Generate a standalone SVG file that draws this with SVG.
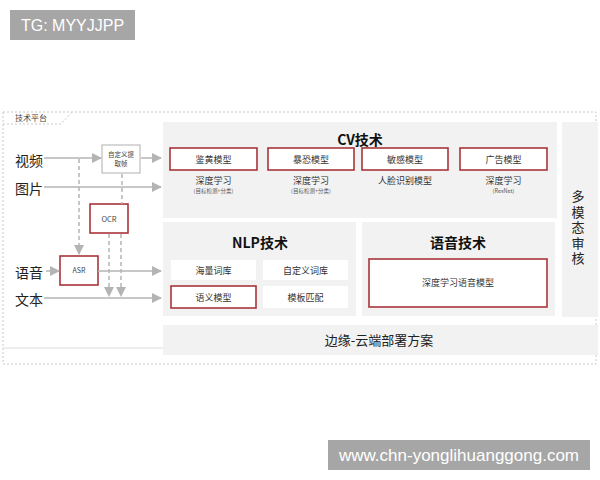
<svg xmlns="http://www.w3.org/2000/svg" width="600" height="480" viewBox="0 0 600 480">
<defs>
<marker id="ah" viewBox="0 0 10 10" refX="9" refY="5" markerWidth="10" markerHeight="10" markerUnits="userSpaceOnUse" orient="auto"><path d="M0,0 L10,5 L0,10 z" fill="#b4b4b4"/></marker>
</defs>
<style>
text{font-family:"Noto Sans CJK SC","Liberation Sans",sans-serif;fill:#333}
.panel{fill:#f2f2f2}
.rbox{fill:#fff;stroke:#a8353a;stroke-width:1.6}
.wbox{fill:#fff}
.gbox{fill:#fff;stroke:#bdbdbd;stroke-width:1.2}
.ln{stroke:#b4b4b4;stroke-width:1.5;fill:none}
.dl{stroke:#b4b4b4;stroke-width:1.5;fill:none;stroke-dasharray:4 3}
.t9{font-size:9px;text-anchor:middle}
.t6{font-size:5.5px;text-anchor:middle;fill:#555}
.h{font-size:14px;font-weight:bold;text-anchor:middle;fill:#111}
.lab{font-size:14px;fill:#222}
</style>
<g id="watermark-tg"><rect x="10" y="10" width="125" height="30" fill="#a6a6a6"/><text x="72.5" y="31" style="font-family:'Liberation Sans',sans-serif;font-size:16px;fill:#fff;text-anchor:middle">TG: MYYJJPP</text></g>
<g id="watermark-url"><rect x="328" y="440" width="262" height="30" fill="#a6a6a6"/><text x="459" y="461" style="font-family:'Liberation Sans',sans-serif;font-size:17px;fill:#fff;text-anchor:middle">www.chn-yonglihuanggong.com</text></g>
<g id="platform">
<rect x="3" y="112" width="593" height="252" fill="none" stroke="#c8c8c8" stroke-width="1" stroke-dasharray="2 2"/>
<path d="M3,124 L61,124 L72,112" fill="none" stroke="#c8c8c8" stroke-width="1" stroke-dasharray="2 2"/>
<text x="15" y="121" style="font-size:8px;fill:#444">技术平台</text>
<line x1="3" y1="348" x2="163" y2="348" stroke="#dcdcdc" stroke-width="1"/>
</g>
<g id="cv">
<rect class="panel" x="163" y="122" width="394" height="96"/>
<text class="h" x="360" y="145">CV技术</text>
<rect class="rbox" x="170" y="148" width="87" height="22"/><text class="t9" x="213.5" y="162.5">鉴黄模型</text>
<rect class="rbox" x="268" y="148" width="86" height="22"/><text class="t9" x="311" y="162.5">暴恐模型</text>
<rect class="rbox" x="362" y="148" width="86" height="22"/><text class="t9" x="405" y="162.5">敏感模型</text>
<rect class="rbox" x="460" y="148" width="87" height="22"/><text class="t9" x="503.5" y="162.5">广告模型</text>
<text class="t9" x="213.5" y="184">深度学习</text><text class="t6" x="213.5" y="193">(目标检测+分类)</text>
<text class="t9" x="311" y="184">深度学习</text><text class="t6" x="311" y="193">(目标检测+分类)</text>
<text class="t9" x="405" y="184">人脸识别模型</text>
<text class="t9" x="503.5" y="184">深度学习</text><text class="t6" x="503.5" y="193">(ResNet)</text>
</g>
<g id="audit">
<rect class="panel" x="562" y="122" width="36" height="195"/>
<text x="578" y="190" writing-mode="vertical-rl" letter-spacing="2.5" style="font-size:13px;fill:#222">多模态审核</text>
</g>
<g id="nlp">
<rect class="panel" x="163" y="222" width="193" height="94"/>
<text class="h" x="260" y="248">NLP技术</text>
<rect class="wbox" x="171" y="260" width="85" height="20"/><text class="t9" x="213.5" y="273.5">海量词库</text>
<rect class="wbox" x="263" y="260" width="85" height="20"/><text class="t9" x="305.5" y="273.5">自定义词库</text>
<rect class="rbox" x="171" y="286" width="85" height="22"/><text class="t9" x="213.5" y="300.5">语义模型</text>
<rect class="wbox" x="263" y="286" width="85" height="22"/><text class="t9" x="305.5" y="300.5">模板匹配</text>
</g>
<g id="speech">
<rect class="panel" x="362" y="222" width="193" height="94"/>
<text class="h" x="458" y="248">语音技术</text>
<rect class="rbox" x="369" y="259" width="178" height="48"/><text class="t9" x="458" y="286">深度学习语音模型</text>
</g>
<g id="edge">
<rect class="panel" x="163" y="325" width="435" height="30" fill="#f4f4f4"/>
<text x="379" y="345" style="font-size:13px;text-anchor:middle;fill:#222">边缘-云端部署方案</text>
</g>
<g id="inputs">
<text class="lab" x="15" y="166">视频</text>
<text class="lab" x="15" y="194">图片</text>
<text class="lab" x="15" y="278">语音</text>
<text class="lab" x="15" y="305">文本</text>
</g>
<g id="frame">
<rect class="gbox" x="102" y="145" width="38" height="28"/>
<text x="121" y="157" style="font-size:6.5px;text-anchor:middle;fill:#444">自定义提</text>
<text x="121" y="166" style="font-size:6.5px;text-anchor:middle;fill:#444">取帧</text>
</g>
<g id="ocr"><rect class="rbox" x="90" y="204" width="38" height="29"/><text x="109" y="221.5" style="font-size:7.5px;text-anchor:middle;fill:#444">OCR</text></g>
<g id="asr"><rect class="rbox" x="60" y="256" width="38" height="29"/><text x="79" y="273" style="font-size:7px;text-anchor:middle;fill:#444">ASR</text></g>
<g id="connectors">
<line class="ln" x1="44" y1="158" x2="101" y2="158" marker-end="url(#ah)"/>
<line class="ln" x1="141" y1="158" x2="161" y2="158" marker-end="url(#ah)"/>
<line class="ln" x1="44" y1="187" x2="161" y2="187" marker-end="url(#ah)"/>
<line class="dl" x1="79" y1="159" x2="79" y2="254" marker-end="url(#ah)"/>
<line class="dl" x1="122" y1="174" x2="122" y2="204"/>
<line class="dl" x1="109" y1="234" x2="109" y2="296" marker-end="url(#ah)"/>
<line class="dl" x1="121" y1="234" x2="121" y2="296" marker-end="url(#ah)"/>
<line class="ln" x1="46" y1="271" x2="59" y2="271" marker-end="url(#ah)"/>
<line class="ln" x1="98" y1="271" x2="161" y2="271" marker-end="url(#ah)"/>
<line class="ln" x1="44" y1="298" x2="161" y2="298" marker-end="url(#ah)"/>
</g>
</svg>
